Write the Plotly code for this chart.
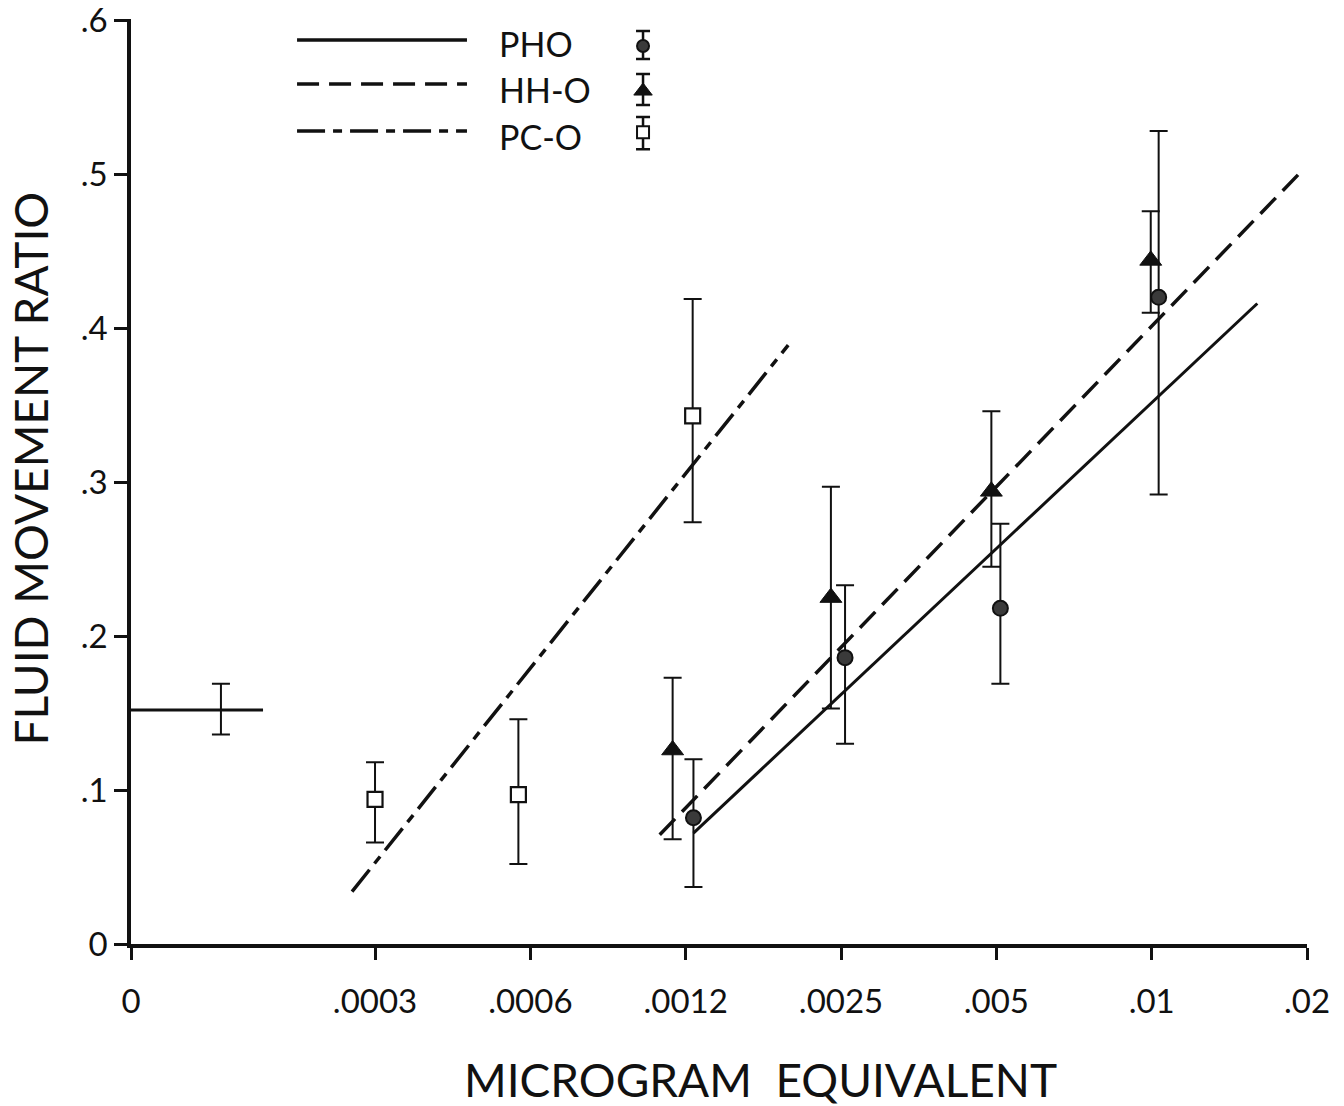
import plotly.graph_objects as go

# ---------------- data ----------------
# x positions: index on the doubling dose scale (.0003 -> 0, .0006 -> 1, ...)
X_TICK_POS = [-1.571, 0, 1, 2, 3, 4, 5, 6]
X_TICK_LABELS = ["0", ".0003", ".0006", ".0012", ".0025", ".005", ".01", ".02"]
Y_TICK_VALS = [0, 0.1, 0.2, 0.3, 0.4, 0.5, 0.6]
Y_TICK_LABELS = ["0", ".1", ".2", ".3", ".4", ".5", ".6"]

# control (dose 0)
CTRL_LINE_X = [-1.571, -0.721]
CTRL_Y = 0.152
CTRL_ERR_X = [-0.992]
CTRL_ERR_Y = [0.152]
CTRL_ERR_HI = [0.169]
CTRL_ERR_LO = [0.136]

# PHO (circles, solid fit)
PHO_X = [2.05, 3.026, 4.026, 5.045]
PHO_Y = [0.082, 0.186, 0.218, 0.420]
PHO_HI = [0.120, 0.233, 0.273, 0.528]
PHO_LO = [0.037, 0.130, 0.169, 0.292]
PHO_FIT_X = [2.05, 5.68]
PHO_FIT_Y = [0.072, 0.416]

# HH-O (triangles, dashed fit)
HHO_X = [1.916, 2.935, 3.968, 4.994]
HHO_Y = [0.126, 0.225, 0.294, 0.444]
HHO_HI = [0.173, 0.297, 0.346, 0.476]
HHO_LO = [0.068, 0.153, 0.245, 0.410]
HHO_FIT_X = [1.833, 5.956]
HHO_FIT_Y = [0.071, 0.501]

# PC-O (open squares, dash-dot fit)
PCO_X = [0.0, 0.923, 2.045]
PCO_Y = [0.094, 0.097, 0.343]
PCO_HI = [0.118, 0.146, 0.419]
PCO_LO = [0.066, 0.052, 0.274]
PCO_FIT_X = [-0.148, 2.66]
PCO_FIT_Y = [0.034, 0.389]

SERIES_NAMES = ["PHO", "HH-O", "PC-O"]

# ---------------- style ----------------
INK = "#111111"
FONT = "Lato"
DASH_SOLID = "solid"
DASH_DASHED = "22px,10px"
DASH_DASHDOT = "28px,8px,9px,8px"


def err(y, hi, lo):
    return dict(type="data", symmetric=False,
                array=[h - v for h, v in zip(hi, y)],
                arrayminus=[v - l for v, l in zip(y, lo)],
                color=INK, thickness=2, width=9)


fig = go.Figure()

# control
fig.add_trace(go.Scatter(x=CTRL_LINE_X, y=[CTRL_Y] * len(CTRL_LINE_X), mode="lines",
                         line=dict(color=INK, width=3), showlegend=False))
fig.add_trace(go.Scatter(x=CTRL_ERR_X, y=CTRL_ERR_Y, mode="markers",
                         marker=dict(size=1, color="rgba(0,0,0,0)"),
                         error_y=err(CTRL_ERR_Y, CTRL_ERR_HI, CTRL_ERR_LO), showlegend=False))

# fit lines
fig.add_trace(go.Scatter(x=PHO_FIT_X, y=PHO_FIT_Y, mode="lines",
                         line=dict(color=INK, width=3, dash=DASH_SOLID), showlegend=False))
fig.add_trace(go.Scatter(x=HHO_FIT_X, y=HHO_FIT_Y, mode="lines",
                         line=dict(color=INK, width=3.5, dash=DASH_DASHED), showlegend=False))
fig.add_trace(go.Scatter(x=PCO_FIT_X, y=PCO_FIT_Y, mode="lines",
                         line=dict(color=INK, width=3.5, dash=DASH_DASHDOT), showlegend=False))

# points
fig.add_trace(go.Scatter(x=PHO_X, y=PHO_Y, mode="markers",
                         marker=dict(symbol="circle", size=15, color="#3a3a3a",
                                     line=dict(color=INK, width=2)),
                         error_y=err(PHO_Y, PHO_HI, PHO_LO), showlegend=False))
fig.add_trace(go.Scatter(x=HHO_X, y=HHO_Y, mode="markers",
                         marker=dict(symbol="triangle-up", size=19, color=INK,
                                     line=dict(color=INK, width=1)),
                         error_y=err(HHO_Y, HHO_HI, HHO_LO), showlegend=False))
fig.add_trace(go.Scatter(x=PCO_X, y=PCO_Y, mode="markers",
                         marker=dict(symbol="square", size=15, color="white",
                                     line=dict(color=INK, width=2.2)),
                         error_y=err(PCO_Y, PCO_HI, PCO_LO), showlegend=False))

# ---------------- custom legend (overlay axes in paper units) ----------------
LEG_LINE_X = [0.1412, 0.2857]
LEG_ROW_Y = [0.9773, 0.9297, 0.8788]
LEG_TEXT_Y = [0.973, 0.924, 0.873]
LEG_TEXT_X = 0.311
LEG_MARK_X = 0.4354
LEG_MARK_Y = [0.9708, 0.9221, 0.8777]
LEG_MARK_HI = [0.987, 0.9405, 0.894]
LEG_MARK_LO = [0.9567, 0.907, 0.8593]
leg_dashes = [DASH_SOLID, DASH_DASHED, DASH_DASHDOT]
leg_markers = [
    dict(symbol="circle", size=12, color="#3a3a3a", line=dict(color=INK, width=2)),
    dict(symbol="triangle-up", size=16, color=INK, line=dict(color=INK, width=1)),
    dict(symbol="square", size=12, color="white", line=dict(color=INK, width=2)),
]
for i, name in enumerate(SERIES_NAMES):
    fig.add_trace(go.Scatter(x=LEG_LINE_X, y=[LEG_ROW_Y[i]] * 2, mode="lines",
                             xaxis="x2", yaxis="y2",
                             line=dict(color=INK, width=3.5, dash=leg_dashes[i]),
                             showlegend=False, hoverinfo="skip"))
    fig.add_trace(go.Scatter(x=[LEG_MARK_X], y=[LEG_MARK_Y[i]], mode="markers",
                             xaxis="x2", yaxis="y2", marker=leg_markers[i],
                             error_y=dict(type="data", symmetric=False,
                                          array=[LEG_MARK_HI[i] - LEG_MARK_Y[i]],
                                          arrayminus=[LEG_MARK_Y[i] - LEG_MARK_LO[i]],
                                          color=INK, thickness=2.5, width=7),
                             showlegend=False, hoverinfo="skip"))
    fig.add_annotation(x=LEG_TEXT_X, y=LEG_TEXT_Y[i], xref="paper", yref="paper",
                       text=name, showarrow=False, xanchor="left", yanchor="middle",
                       font=dict(family=FONT, size=34, color=INK))

# axis titles
fig.add_annotation(x=0.535, y=-0.146, xref="paper", yref="paper",
                   text="MICROGRAM&nbsp;&nbsp;EQUIVALENT", showarrow=False,
                   xanchor="center", yanchor="middle",
                   font=dict(family=FONT, size=46, color=INK))
fig.add_annotation(x=-0.085, y=0.514, xref="paper", yref="paper",
                   text="FLUID MOVEMENT RATIO", showarrow=False, textangle=-90,
                   xanchor="center", yanchor="middle",
                   font=dict(family=FONT, size=46, color=INK))

fig.update_layout(
    width=1344, height=1106,
    margin=dict(l=131, r=37, t=19, b=162),
    paper_bgcolor="white", plot_bgcolor="white",
    showlegend=False,
    font=dict(family=FONT, color=INK),
    xaxis=dict(range=[X_TICK_POS[0], X_TICK_POS[-1]], tickmode="array",
               tickvals=X_TICK_POS, ticktext=X_TICK_LABELS,
               showline=True, linecolor=INK, linewidth=3.5,
               ticks="outside", ticklen=12, tickwidth=3, tickcolor=INK,
               showgrid=False, zeroline=False,
               tickfont=dict(family=FONT, size=33, color=INK),
               ticklabelstandoff=14, ticklabeloverflow="allow"),
    yaxis=dict(range=[0, 0.6008], tickmode="array",
               tickvals=Y_TICK_VALS, ticktext=Y_TICK_LABELS,
               showline=True, linecolor=INK, linewidth=3.5,
               ticks="outside", ticklen=13, tickwidth=3, tickcolor=INK,
               showgrid=False, zeroline=False,
               tickfont=dict(family=FONT, size=33, color=INK),
               ticklabelstandoff=0, ticklabeloverflow="allow", automargin=False),
    xaxis2=dict(range=[0, 1], overlaying="x", visible=False, fixedrange=True),
    yaxis2=dict(range=[0, 1], overlaying="y", visible=False, fixedrange=True),
)

fig.write_html("out.html")
